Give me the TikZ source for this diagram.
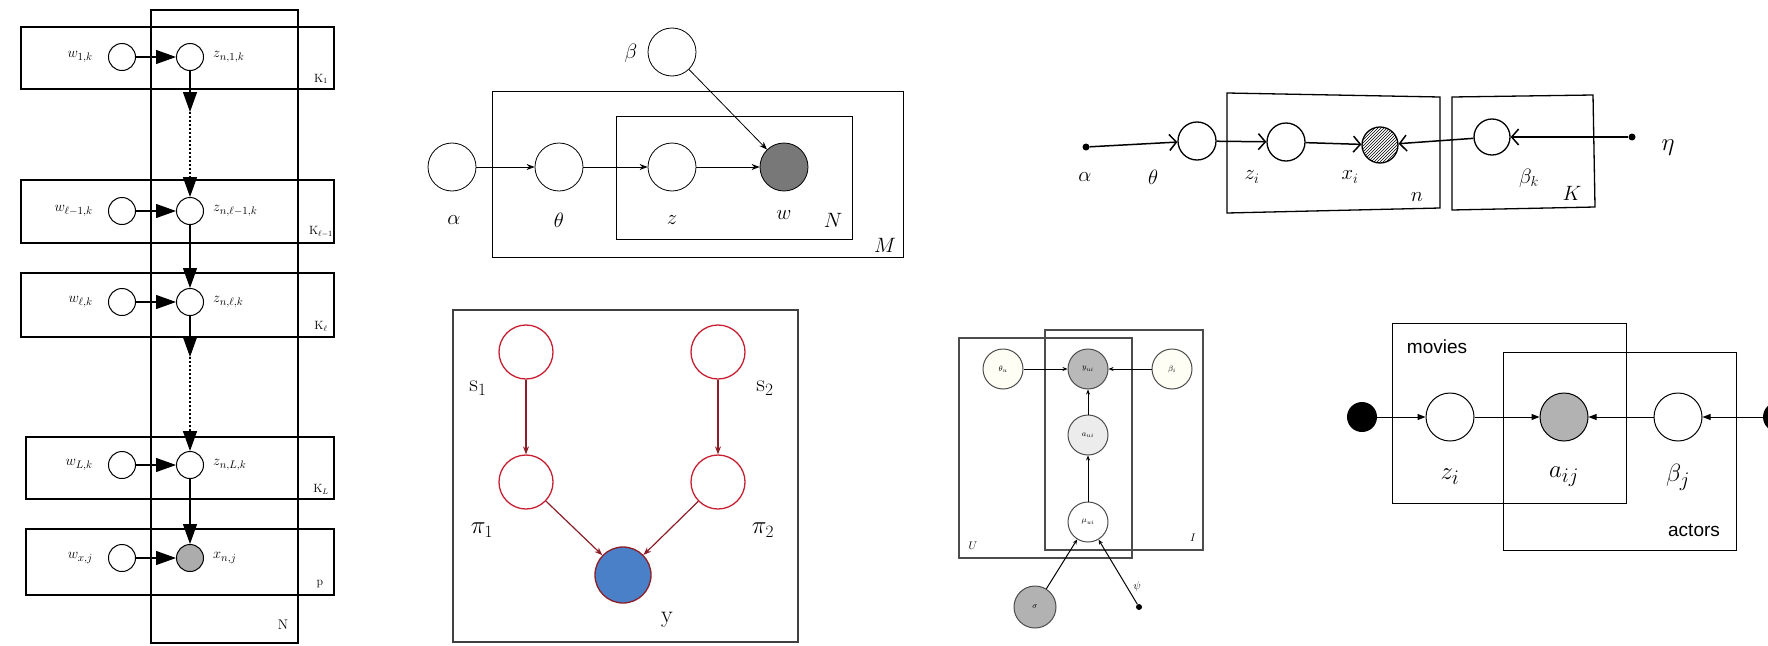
\documentclass[tikz,border=0pt]{standalone}
\usepackage{fontspec}
\newfontfamily\arialf{Liberation Sans}
\usetikzlibrary{arrows.meta,patterns}
\definecolor{redc}{RGB}{200,30,50}
\definecolor{darkr}{RGB}{140,30,40}
\definecolor{bluef}{RGB}{74,128,200}
\definecolor{ldag}{RGB}{120,120,120}
\begin{document}
\begin{tikzpicture}[x=1pt,y=-1pt,
  plate/.style={draw,line width=1.2pt},
  lc/.style={circle,draw,line width=1pt,minimum size=27pt,inner sep=0pt},
  tri/.style={-{Triangle[length=20pt,width=14pt]},line width=1.2pt},
  dotl/.style={dash pattern=on 2pt off 2pt,line width=1.5pt},
  lab/.style={inner sep=0pt,font=\fontsize{15}{15}\selectfont},
  klab/.style={inner sep=0pt,font=\fontsize{12}{12}\selectfont},
  lda/.style={circle,draw,line width=0.8pt,minimum size=48pt,inner sep=0pt},
  ldaar/.style={-{Stealth[length=8pt,width=6pt]},line width=0.8pt},
  ldalab/.style={inner sep=0pt,font=\fontsize{20}{20}\selectfont},
  hw/.style={circle,draw,line width=1.3pt,minimum size=38pt,inner sep=0pt},
  hwar/.style={-{Straight Barb[length=7pt,width=16pt]},line width=1.5pt},
  hwlab/.style={inner sep=0pt,font=\fontsize{22}{22}\selectfont},
  rc/.style={circle,draw=redc,line width=1.3pt,minimum size=54pt,inner sep=0pt},
  rar/.style={-{Stealth[length=8pt,width=6pt]},line width=1.2pt,draw=darkr},
  rlab/.style={inner sep=0pt,font=\fontsize{24}{24}\selectfont},
  sp/.style={draw=gray!60!black,line width=1.5pt},
  sc/.style={circle,draw=gray!60!black,line width=1pt,minimum size=40pt,inner sep=0pt,font=\fontsize{8}{8}\selectfont},
  sar/.style={-{Stealth[length=5pt,width=4pt]},line width=1pt},
  slab/.style={inner sep=0pt,font=\fontsize{11}{11}\selectfont},
  brc/.style={circle,draw,line width=1pt,minimum size=48pt,inner sep=0pt},
  brar/.style={-{Triangle[length=8pt,width=6pt]},line width=1pt},
  brlab/.style={inner sep=0pt,font=\fontsize{32}{32}\selectfont},
  sflab/.style={inner sep=0pt,font=\arialf\fontsize{19}{19}\selectfont}]
\clip (0,0) rectangle (1768,645);
\fill[white] (0,0) rectangle (1768,645);

% ---------- left diagram ----------
\draw[plate] (151,10) rectangle (298,643);
\draw[plate] (21,27) rectangle (334,89);
\draw[plate] (21,180) rectangle (334,243);
\draw[plate] (21,273) rectangle (334,337);
\draw[plate] (26,437) rectangle (334,499);
\draw[plate] (26,529) rectangle (334,595);
\node[lc,fill=white] (w1) at (122,57) {};
\node[lc,fill=white] (z1) at (190,57) {};
\node[lc,fill=white] (w2) at (122,211) {};
\node[lc,fill=white] (z2) at (190,211) {};
\node[lc,fill=white] (w3) at (122,302) {};
\node[lc,fill=white] (z3) at (190,302) {};
\node[lc,fill=white] (w4) at (122,465) {};
\node[lc,fill=white] (z4) at (190,465) {};
\node[lc,fill=white] (w5) at (122,558) {};
\node[lc,fill=gray!65] (x5) at (190,558) {};
\node[lab,anchor=east] (lw1) at (93,57) {$w_{1,k}$};
\node[lab,anchor=west] (lz1) at (213,57) {$z_{n,1,k}$};
\node[lab,anchor=east] (lw2) at (93,211) {$w_{\ell-1,k}$};
\node[lab,anchor=west] (lz2) at (213,211) {$z_{n,\ell-1,k}$};
\node[lab,anchor=east] (lw3) at (93,302) {$w_{\ell,k}$};
\node[lab,anchor=west] (lz3) at (213,302) {$z_{n,\ell,k}$};
\node[lab,anchor=east] (lw4) at (93,465) {$w_{L,k}$};
\node[lab,anchor=west] (lz4) at (213,465) {$z_{n,L,k}$};
\node[lab,anchor=east] (lw5) at (93,558) {$w_{x,j}$};
\node[lab,anchor=west] (lx5) at (213,558) {$x_{n,j}$};
\node[klab] (k1) at (321,79) {$\mathrm{K}_1$};
\node[klab] (k2) at (321,232) {$\mathrm{K}_{\ell-1}$};
\node[klab] (k3) at (321,326) {$\mathrm{K}_\ell$};
\node[klab] (k4) at (321,489) {$\mathrm{K}_L$};
\node[klab] (k5) at (320,584) {$\mathrm{p}$};
\node[klab,font=\fontsize{14}{14}\selectfont] (nN) at (283,625) {N};
\draw[tri] (w1) -- (z1);
\draw[tri] (w2) -- (z2);
\draw[tri] (w3) -- (z3);
\draw[tri] (w4) -- (z4);
\draw[tri] (w5) -- (x5);
\coordinate (c1) at (190,112);
\coordinate (c2) at (190,357);
\draw[tri] (z1) -- (c1);
\draw[tri,dotl] (c1) -- (z2);
\draw[tri] (z2) -- (z3);
\draw[tri] (z3) -- (c2);
\draw[tri,dotl] (c2) -- (z4);
\draw[tri] (z4) -- (x5);

% ---------- LDA ----------
\draw[line width=1pt] (492,91) rectangle (903,257);
\draw[line width=1pt] (616,116) rectangle (852,239);
\node[lda] (al) at (452,167) {};
\node[lda] (th) at (559,167) {};
\node[lda] (zz) at (672,167) {};
\node[lda,fill=ldag] (ww) at (784,167) {};
\node[lda] (be) at (672,52) {};
\node[ldalab] (lal) at (454,220) {$\alpha$};
\node[ldalab] (lth) at (559,220) {$\theta$};
\node[ldalab] (lzz) at (672,220) {$z$};
\node[ldalab] (lww) at (784,215) {$w$};
\node[ldalab] (lbe) at (631,53) {$\beta$};
\node[ldalab] (lN) at (833,220) {$N$};
\node[ldalab] (lM) at (885,245) {$M$};
\draw[ldaar] (al) -- (th);
\draw[ldaar] (th) -- (zz);
\draw[ldaar] (zz) -- (ww);
\draw[ldaar] (be) -- (ww);

% ---------- handwritten ----------
\draw[line width=1.3pt] (1227,93) -- (1440,97) -- (1440,208) -- (1227,213) -- cycle;
\draw[line width=1.3pt] (1452,97) -- (1593,95) -- (1595,207) -- (1452,210) -- cycle;
\node[circle,fill=black,inner sep=0pt,minimum size=7pt] (ha) at (1086,147) {};
\node[hw] (hth) at (1197,141) {};
\node[hw] (hz) at (1286,142) {};
\node[hw,minimum size=36pt,pattern=north east lines,pattern color=black] (hx) at (1380,145) {};
\node[hw,minimum size=36pt] (hb) at (1492,137) {};
\node[circle,fill=black,inner sep=0pt,minimum size=7pt] (he) at (1632,137) {};
\draw[hwar] (ha) -- (hth);
\draw[hwar] (hth) -- (hz);
\draw[hwar] (hz) -- (hx);
\draw[hwar] (hb) -- (hx);
\draw[hwar] (he) -- (hb);
\node[hwlab] (hla) at (1085,177) {$\alpha$};
\node[hwlab] (hlth) at (1153,177) {$\theta$};
\node[hwlab] (hlz) at (1252,177) {$z_i$};
\node[hwlab] (hlx) at (1350,177) {$x_i$};
\node[hwlab] (hlb) at (1529,178) {$\beta_k$};
\node[hwlab] (hln) at (1417,197) {$n$};
\node[hwlab] (hlk) at (1572,193) {$K$};
\node[hwlab,font=\fontsize{32}{32}\selectfont] (hle) at (1668,148) {$\eta$};

% ---------- red ----------
\draw[line width=1.3pt,gray!50!black] (453,310) rectangle (798,642);
\node[rc] (s1) at (526,352) {};
\node[rc] (s2) at (718,352) {};
\node[rc] (p1) at (526,482) {};
\node[rc] (p2) at (718,482) {};
\node[rc,draw=darkr,fill=bluef,minimum size=56pt] (yy) at (623,575) {};
\draw[rar] (s1) -- (p1);
\draw[rar] (s2) -- (p2);
\draw[rar] (p1) -- (yy);
\draw[rar] (p2) -- (yy);
\node[rlab] (ls1) at (478,388) {$\mathrm{s}_1$};
\node[rlab] (ls2) at (765,388) {$\mathrm{s}_2$};
\node[rlab] (lp1) at (482,530) {$\pi_1$};
\node[rlab] (lp2) at (763,530) {$\pi_2$};
\node[rlab] (ly) at (667,620) {$\mathrm{y}$};

% ---------- small plates ----------
\draw[sp] (959,338) rectangle (1132,558);
\draw[sp] (1045,330) rectangle (1203,550);
\node[sc,fill=yellow!4] (thu) at (1003,369) {$\theta_u$};
\node[sc,fill=gray!55] (yui) at (1088,369) {$y_{ui}$};
\node[sc,fill=yellow!4] (bei) at (1172,369) {$\beta_i$};
\node[sc,fill=gray!15] (aui) at (1088,435) {$a_{ui}$};
\node[sc,fill=white] (mui) at (1088,522) {$\mu_{ui}$};
\node[sc,fill=gray!60,minimum size=42pt] (sig) at (1035,607) {$\sigma$};
\node[circle,fill=black,inner sep=0pt,minimum size=6pt] (psi) at (1139,607) {};
\draw[sar] (thu) -- (yui);
\draw[sar] (bei) -- (yui);
\draw[sar] (aui) -- (yui);
\draw[sar] (mui) -- (aui);
\draw[sar] (sig) -- (mui);
\draw[sar] (psi) -- (mui);
\node[slab] (lpsi) at (1137,587) {$\psi$};
\node[slab] (lU) at (973,546) {$U$};
\node[slab] (lI) at (1193,538) {$I$};

% ---------- bottom right ----------
\draw[line width=1pt] (1392,323) rectangle (1626,503);
\draw[line width=1pt] (1503,352) rectangle (1736,550);
\node[circle,fill=black,inner sep=0pt,minimum size=30pt] (dl) at (1362,417) {};
\node[brc] (zi) at (1450,417) {};
\node[brc,fill=gray!60] (aij) at (1564,417) {};
\node[brc] (bj) at (1678,417) {};
\node[circle,fill=black,inner sep=0pt,minimum size=30pt] (dr) at (1778,417) {};
\draw[brar] (dl) -- (zi);
\draw[brar] (zi) -- (aij);
\draw[brar] (bj) -- (aij);
\draw[brar] (dr) -- (bj);
\node[sflab] (lmov) at (1437,347) {movies};
\node[sflab] (lact) at (1694,530) {actors};
\node[brlab] (lzi) at (1450,477) {$z_i$};
\node[brlab] (laij) at (1564,477) {$a_{ij}$};
\node[brlab] (lbj) at (1678,477) {$\beta_j$};
\end{tikzpicture}
\end{document}
